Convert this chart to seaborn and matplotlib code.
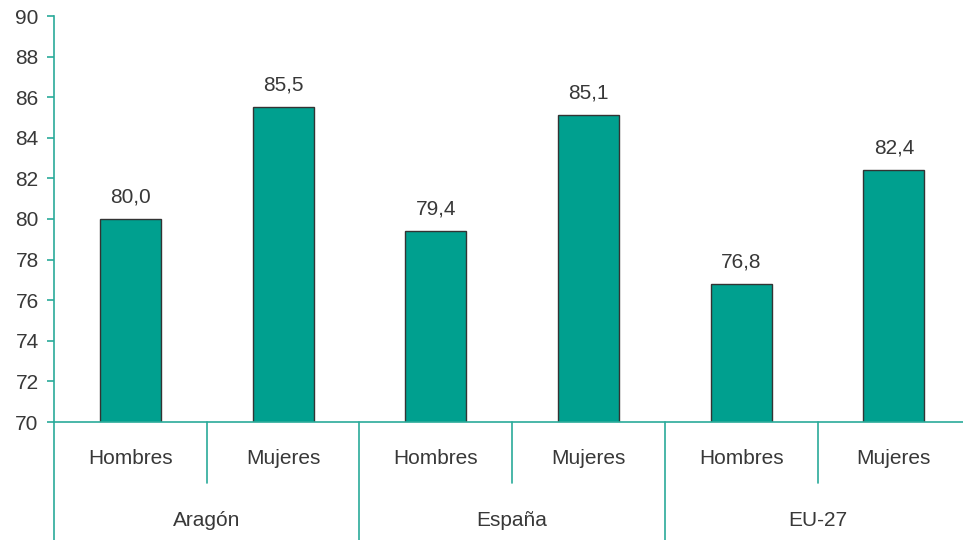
import matplotlib
matplotlib.use("Agg")
import matplotlib.pyplot as plt
import matplotlib.transforms as mtransforms
import pandas as pd
import seaborn as sns

# Datos: esperanza de vida
regiones = ["Aragón", "España", "EU-27"]
sexos = ["Hombres", "Mujeres"]
valores = [80.0, 85.5, 79.4, 85.1, 76.8, 82.4]
yticks = [70, 72, 74, 76, 78, 80, 82, 84, 86, 88, 90]

VERDE = "#00A08F"
LINEA = "#2AAA9A"
TEXTO = "#383838"
FS = 15

claves = [f"{r}|{s}" for r in regiones for s in sexos]
df = pd.DataFrame({"clave": claves, "valor": valores})

sns.set_theme(style="white")
plt.rcParams["font.family"] = ["Liberation Sans", "DejaVu Sans"]

fig = plt.figure(figsize=(9.63, 5.4), dpi=100)
W, H = 963, 540
x0, ytop, ybot = 54, 16, 422
ancho_cat = 152.7
ax = fig.add_axes([x0 / W, 1 - ybot / H, 6 * ancho_cat / W, (ybot - ytop) / H])

sns.barplot(data=df, x="clave", y="valor", order=claves, color=VERDE,
            width=0.4, edgecolor="#333333", linewidth=1.0, saturation=1,
            ax=ax)

ax.set_ylim(70, 90)
ax.set_xlim(-0.5, 5.5)
ax.set_yticks(yticks)
ax.set_yticklabels([str(t) for t in yticks], fontsize=FS, color=TEXTO)
ax.tick_params(axis="y", which="major", length=5, width=1.2, color=LINEA,
               left=True, pad=6)
ax.tick_params(axis="x", bottom=False, labelbottom=False)
ax.set_xlabel("")
ax.set_ylabel("")

for lado in ["top", "right"]:
    ax.spines[lado].set_visible(False)
for lado in ["left", "bottom"]:
    ax.spines[lado].set_color(LINEA)
    ax.spines[lado].set_linewidth(1.2)

# Etiquetas de valor
for cont in ax.containers:
    ax.bar_label(cont, labels=[f"{v:.1f}".replace(".", ",") for v in cont.datavalues],
                 padding=9, fontsize=FS, color=TEXTO)

# Eje de categorías en dos niveles
trans = mtransforms.blended_transform_factory(ax.transData, ax.transAxes)
alto = ybot - ytop
y_menor = -(483 - ybot) / alto
y_mayor = -(H - ybot + 5) / alto
y_sexo = -(458 - ybot) / alto
y_region = -(520 - ybot) / alto

for i, c in enumerate(claves):
    sexo = c.split("|")[1]
    ax.text(i, y_sexo, sexo, transform=trans, ha="center", va="center",
            fontsize=FS, color=TEXTO)
for j, r in enumerate(regiones):
    ax.text(2 * j + 0.5, y_region, r, transform=trans, ha="center", va="center",
            fontsize=FS, color=TEXTO)
    # separador entre sexos
    ax.plot([2 * j + 0.5, 2 * j + 0.5], [0, y_menor], transform=trans,
            color=LINEA, lw=1.2, clip_on=False)
    # separador entre regiones
    ax.plot([2 * j - 0.5, 2 * j - 0.5], [0, y_mayor], transform=trans,
            color=LINEA, lw=1.2, clip_on=False)

fig.savefig("out.png", dpi=100)
